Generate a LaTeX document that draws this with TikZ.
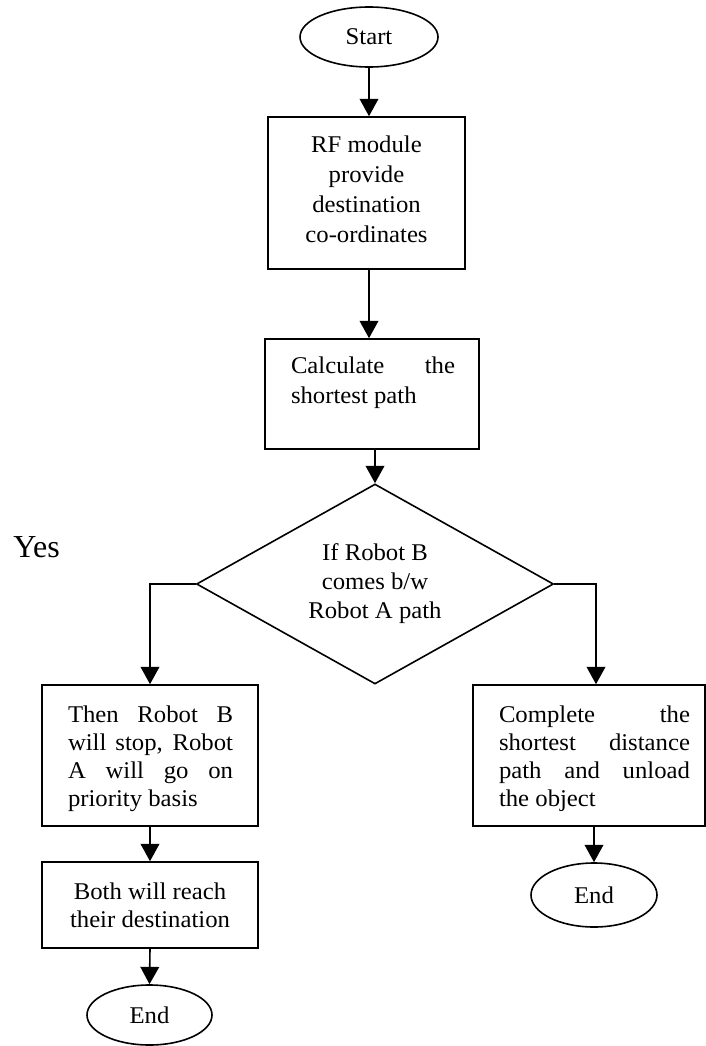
\documentclass[tikz,border=0pt]{standalone}
\usepackage{fontspec}
\setmainfont{Liberation Serif}[FakeStretch=1.03]
\newfontfamily\yesfont{Liberation Serif}
\usetikzlibrary{shapes.geometric,arrows.meta,calc}
% box content: #1 box width, #2 box height, #3 top gap, #4 left inset, #5 text width, #6 alignment, #7 text
\newcommand\bxt[7]{\parbox[c][#2][t]{#1}{\vspace*{#3}\hspace*{#4}\parbox[t]{#5}{#6\strut#7}}}
\newcommand\jl[1]{\makebox[\linewidth][s]{#1}}
\tikzset{
  base/.style={draw=black, line width=1.2pt, inner sep=0pt, font=\fontsize{18}{22.5}\selectfont},
  term/.style={base, ellipse},
  proc/.style={base, rectangle},
  decision/.style={base, diamond, shape aspect=2, minimum width=267.75pt, minimum height=150pt,
    align=center, font=\fontsize{18}{21.75}\selectfont},
  arr/.style={line width=1.2pt, -{Triangle[width=14pt,length=13pt]}},
}
\begin{document}
\begin{tikzpicture}[x=0.75pt,y=-0.75pt]
\useasboundingbox (0,0) rectangle (706,1046);
\node[term, minimum width=103.5pt, minimum height=45pt] (start) at (369,37) {Start};
\node[proc] (rf) at (366.5,193)
  {\bxt{147.75pt}{114pt}{10.5pt}{0pt}{147.75pt}{\centering}{RF module\\provide\\destination\\co-ordinates}};
\node[proc] (calc) at (372,394)
  {\bxt{160.5pt}{82.5pt}{9.75pt}{19.5pt}{123pt}{}{\jl{Calculate the}\\shortest path}};
\node[decision] (dec) at (375,584) {If Robot B\\comes b/w\\Robot A path};
\node[anchor=base west, inner sep=0pt, font=\yesfont\fontsize{24}{28}\selectfont] (yes) at (13,557) {Yes};
\node[proc, font=\fontsize{18}{21}\selectfont] (then) at (150,755.5)
  {\bxt{162pt}{105.75pt}{13.05pt}{19.5pt}{123.75pt}{}{\jl{Then Robot B}\\\jl{will stop, Robot}\\\jl{A will go on}\\priority basis}};
\node[proc, minimum width=162pt, minimum height=64.5pt, align=center, font=\fontsize{18}{21}\selectfont] (both) at (150,905)
  {Both will reach\\their destination};
\node[term, minimum width=93.75pt, minimum height=45pt] (end1) at (149.5,1015) {End};
\node[proc, font=\fontsize{18}{21}\selectfont] (comp) at (589,755.5)
  {\bxt{174pt}{105.75pt}{13.05pt}{19.5pt}{143.25pt}{}{\jl{Complete the}\\\jl{shortest distance}\\\jl{path and unload}\\the object}};
\node[term, minimum width=94.5pt, minimum height=48pt] (end2) at (594,895) {End};

\draw[arr] (start.south) -- (start.south |- rf.north);
\draw[arr] ($(rf.south)+(2.5,0)$) -- ($(rf.south |- calc.north)+(2.5,0)$);
\draw[arr] (dec.north |- calc.south) -- (dec.north);
\draw[arr] (dec.west) -| (then.north);
\draw[arr] (dec.east) -| ($(comp.north)+(7,0)$);
\draw[arr] (then.south) -- (both.north);
\draw[arr] (both.south) -- (end1.north);
\draw[arr] (end2.north |- comp.south) -- (end2.north);
\end{tikzpicture}
\end{document}
